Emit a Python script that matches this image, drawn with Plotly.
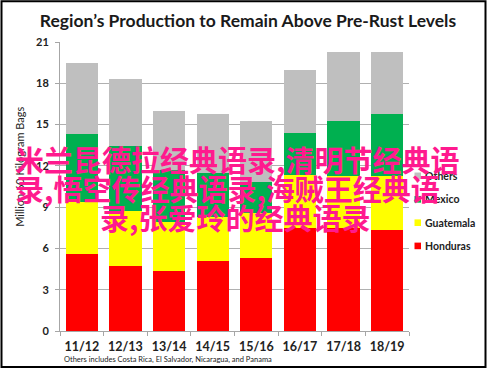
import plotly.graph_objects as go

W, H = 487, 369
categories = ["11/12", "12/13", "13/14", "14/15", "15/16", "16/17", "17/18", "18/19"]
honduras = [5.60, 4.73, 4.39, 5.07, 5.28, 7.47, 7.47, 7.35]
guatemala = [3.80, 4.00, 3.56, 3.23, 3.28, 3.83, 3.80, 3.88]
mexico = [4.91, 4.68, 3.75, 3.17, 2.30, 3.08, 3.98, 4.51]
others = [5.16, 4.90, 4.26, 4.33, 4.42, 4.61, 5.02, 4.56]
y_ticks = [0, 3, 6, 9, 12, 15, 18, 21]

series_names = ["Honduras", "Guatemala", "Mexico", "Others"]
series_values = [honduras, guatemala, mexico, others]
series_colors = ["#FF0000", "#FFFF00", "#00B050", "#BFBFBF"]

title_text = "Region’s Production to Remain Above Pre-Rust Levels"
y_title = "Million 60 Kilogram Bags"
footnote = "Others includes Costa Rica, El Salvador, Nicaragua, and Panama"
overlay_lines = ["米兰昆德拉经典语录,清明节经典语", "录,悟空传经典语录,海贼王经典语", "录,张爱玲的经典语录"]

# plot area in pixels
L, R, T, B = 60, 409, 42.3, 331

def px_x(px):
    return (px - L) / (R - L)

def px_y(py):
    return (B - py) / (B - T)

fig = go.Figure()
for name, vals, col in zip(series_names, series_values, series_colors):
    fig.add_trace(go.Bar(x=categories, y=vals, name=name, marker=dict(color=col, line=dict(width=0)),
                         showlegend=False))

fig.update_layout(
    width=W, height=H,
    barmode="stack", bargap=0.26,
    margin=dict(l=L, r=W - R, t=T, b=H - B),
    paper_bgcolor="white", plot_bgcolor="white",
    title=dict(text=title_text, x=248 / W, xanchor="center", y=1 - 20.7 / H, yanchor="middle",
               font=dict(family="Lato", size=17.5, color="#1a1a1a", weight="bold")),
    showlegend=False,
)
fig.update_yaxes(range=[0, 21], tickvals=y_ticks, showgrid=True, gridcolor="#B0B0B0", gridwidth=1,
                 showline=True, linecolor="#A6A6A6", linewidth=1, ticks="outside", ticklen=4,
                 tickcolor="#A6A6A6", ticklabelstandoff=4,
                 tickfont=dict(family="Lato", size=11, color="#222", weight="bold"), zeroline=False)
fig.update_xaxes(showline=True, linecolor="#A6A6A6", linewidth=1, ticks="outside", ticklen=4,
                 tickcolor="#A6A6A6", tickson="boundaries", ticklabelstandoff=4, tickangle=0,
                 tickfont=dict(family="Lato", size=12.5, color="#222", weight="bold"))

ann = []
ann.append(dict(text=y_title, x=px_x(20), y=px_y(167), xref="paper", yref="paper", showarrow=False,
                textangle=-90, xanchor="center", yanchor="middle",
                font=dict(family="Lato", size=11, color="#222")))
ann.append(dict(text=footnote, x=px_x(62), y=px_y(359), xref="paper", yref="paper", showarrow=False,
                xanchor="left", yanchor="middle", font=dict(family="Lato", size=7.5, color="#222")))

# custom legend (top to bottom: Others, Mexico, Guatemala, Honduras)
shapes = []
leg_y = [246, 222.8, 199.5, 176]
for name, col, yc in zip(series_names, series_colors, leg_y):
    shapes.append(dict(type="rect", xref="paper", yref="paper", x0=px_x(414.5), x1=px_x(421),
                       y0=px_y(yc + 3.3), y1=px_y(yc - 3.3), fillcolor=col, line=dict(width=0)))
    ann.append(dict(text=name, x=px_x(423), y=px_y(yc), xref="paper", yref="paper", showarrow=False,
                    xanchor="left", yanchor="middle", font=dict(family="Lato", size=10.5, color="#222", weight="bold")))

# border frame
shapes.append(dict(type="rect", xref="paper", yref="paper", x0=px_x(1.5), x1=px_x(485.5),
                   y0=px_y(367), y1=px_y(1.5), line=dict(color="black", width=2), fillcolor="rgba(0,0,0,0)"))

# overlay text
pink = "#FF1A8E"
ofont = dict(family="Noto Sans CJK SC", size=29, color=pink, weight="bold")
ann.append(dict(text=overlay_lines[0], x=px_x(12.5), y=px_y(159), xref="paper", yref="paper", showarrow=False,
                xanchor="left", yanchor="middle", font=ofont))
ann.append(dict(text=overlay_lines[1], x=px_x(12.5), y=px_y(188), xref="paper", yref="paper", showarrow=False,
                xanchor="left", yanchor="middle", font=ofont))
ann.append(dict(text=overlay_lines[2], x=px_x(235), y=px_y(217), xref="paper", yref="paper", showarrow=False,
                xanchor="center", yanchor="middle", font=ofont))

fig.update_layout(annotations=ann, shapes=shapes)
fig.write_html("out.html", config={"displayModeBar": False},
               post_script="document.body.style.margin='0px';document.body.style.padding='0px';")
